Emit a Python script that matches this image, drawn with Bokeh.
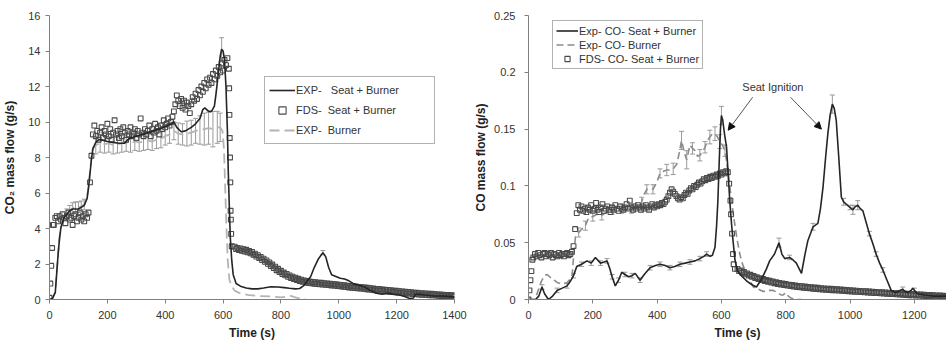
from bokeh.plotting import figure
from bokeh.models import (ColumnDataSource, Whisker, TeeHead, Legend, LegendItem,
                          FixedTicker, Range1d, Arrow, NormalHead, Label)
from bokeh.layouts import row
from bokeh.embed import file_html
from bokeh.resources import INLINE

FONT = "Liberation Sans"

# ---------------- Left panel: CO2 ----------------
exp_sb_t = [0, 10, 20, 25, 30, 35, 40, 50, 60, 70, 80, 90, 100, 110, 120, 130, 135, 140, 145, 150,
            160, 170, 180, 190, 200, 220, 240, 260, 270, 280, 300, 320, 340, 360, 380, 400, 420, 430,
            440, 455, 470, 490, 505, 520, 530, 537, 550, 560, 570, 575, 582, 590, 595, 600, 605, 610,
            615, 618, 622, 625, 630, 635, 645, 660, 680, 700, 720, 740, 766, 790, 811, 830, 850, 865,
            880, 892, 903, 915, 930, 945, 955, 965, 975, 990, 1005, 1020, 1035, 1052, 1070, 1090,
            1110, 1130, 1150, 1170, 1190, 1210, 1230, 1245, 1258, 1265, 1280, 1300, 1330, 1360, 1400]
exp_sb_co2 = [0, 0.05, 0.4, 1.5, 2.6, 3.5, 4.1, 4.6, 4.8, 5.0, 5.1, 5.1, 5.1, 5.2, 5.3, 5.7, 6.3, 7.1, 7.9, 8.5,
              8.85, 9.0, 9.0, 8.95, 8.9, 8.85, 8.8, 8.8, 9.0, 9.1, 9.2, 9.3, 9.4, 9.5, 9.6, 9.75, 9.9, 10.0,
              9.7, 9.45, 9.5, 9.7, 9.9, 10.2, 10.7, 10.8, 10.6, 10.6, 10.9, 11.5, 12.5, 13.7, 14.1, 14.0, 13.5, 12.0,
              9.5, 7.2, 5.0, 3.5, 2.2, 1.4, 0.9, 0.75, 0.65, 0.6, 0.6, 0.65, 0.72, 0.7, 0.67, 0.63, 0.6, 0.62,
              0.8, 1.07, 1.3, 1.8, 2.3, 2.64, 2.4, 1.8, 1.4, 1.3, 1.2, 1.15, 1.05, 0.88, 0.8, 0.7,
              0.5, 0.35, 0.3, 0.35, 0.3, 0.25, 0.15, 0.05, 0.08, 0.3, 0.3, 0.25, 0.2, 0.2, 0.15]
exp_sb_err = [0] * len(exp_sb_t)
exp_sb_err[exp_sb_t.index(595)] = 0.65
exp_sb_err[exp_sb_t.index(945)] = 0.12

exp_b_t = [0, 10, 20, 25, 30, 35, 40, 50, 60, 70, 80, 90, 100, 110, 120, 130, 135, 140, 145, 150,
           160, 175, 190, 205, 220, 235, 250, 265, 280, 295, 310, 325, 340, 355, 370, 385, 400, 415,
           430, 445, 460, 475, 490, 505, 520, 535, 550, 565, 580, 590, 598, 603, 607, 611, 616, 622,
           630, 640, 662, 690, 720, 766, 800, 834, 850, 870, 885]
exp_b_co2 = [0, 0.05, 0.4, 1.5, 2.6, 3.5, 4.0, 4.6, 4.8, 5.0, 5.15, 5.2, 5.2, 5.25, 5.35, 5.8, 6.4, 7.2, 8.0, 8.5,
             8.7, 8.8, 8.75, 8.8, 8.7, 8.75, 8.8, 8.85, 8.8, 8.9, 8.85, 8.9, 8.95, 8.9, 9.0, 9.05, 9.2, 9.3,
             9.5, 9.35, 9.3, 9.35, 9.4, 9.5, 9.55, 9.6, 9.65, 9.6, 9.7, 9.7, 9.5, 8.5, 6.5, 4.4, 2.2, 1.1,
             0.75, 0.5, 0.32, 0.25, 0.2, 0.17, 0.12, 0.2, 0.12, 0.03, 0.0]
exp_b_err = [0, 0, 0, 0, 0, 0, 0, 0, 0.3, 0.3, 0.3, 0.3, 0.3, 0.3, 0.3, 0, 0, 0, 0, 0,
             0.5, 0.5, 0.5, 0.5, 0.5, 0.5, 0.5, 0.5, 0.5, 0.5, 0.5, 0.5, 0.5, 0.5, 0.5, 0.5, 0.5, 0.5,
             0.5, 0.6, 0.6, 0.7, 0.7, 0.7, 0.8, 0.9, 0.9, 1.0, 0.9, 0.8, 0, 0, 0, 0, 0, 0,
             0, 0, 0, 0, 0, 0, 0, 0, 0, 0, 0]

fds_t = [0, 3, 6, 9, 12] + list(range(15, 616, 5)) + [620, 621, 622, 623, 624, 625, 626, 627, 628, 630] \
        + list(range(640, 1401, 5))
fds_co2 = [0.1, 0.9, 1.9, 2.9, 4.2,
           4.2, 4.6, 4.7, 4.4, 4.7, 4.5, 4.8, 4.6, 4.3, 4.7,
           4.9, 4.5, 4.6, 4.2, 4.7, 4.8, 4.4, 4.6, 4.9, 4.5,
           4.7, 4.4, 4.8, 4.6, 4.9, 6.6, 8.1, 9.3, 9.8, 9.2,
           9.5, 9.0, 9.4, 9.7, 9.1, 9.5, 9.3, 9.9, 9.2, 9.6,
           9.0, 9.4, 10.1, 9.3, 9.5, 9.1, 9.6, 9.2, 9.7, 9.4,
           9.0, 9.5, 9.3, 9.7, 9.2, 9.4, 9.6, 9.1, 9.5, 9.3,
           10.2, 9.4, 9.2, 9.6, 9.3, 9.5, 9.8, 9.2, 9.6, 9.4,
           9.9, 9.5, 9.7, 9.3, 9.8, 9.6, 10.1, 9.7, 9.9, 10.2,
           9.8, 10.0, 10.3, 10.6, 11.0, 11.5, 11.2, 10.9, 11.3, 10.8,
           11.2, 10.7, 11.1, 10.9, 10.5, 11.0, 11.4, 11.2, 11.6, 11.3,
           11.8, 11.5, 12.0, 11.7, 12.2, 11.9, 12.4, 12.1, 12.5, 12.2,
           12.7, 12.4, 12.9, 12.6, 13.1, 12.8, 13.3, 12.9, 13.5, 13.2,
           13.6,
           13.0, 11.9, 10.4, 9.1, 8.0, 6.6, 5.0, 4.5, 3.7, 3.0,
           2.98, 2.84, 2.90, 2.78, 2.88, 2.74, 2.84, 2.70, 2.80, 2.66,
           2.74, 2.60, 2.68, 2.52, 2.58, 2.42, 2.50, 2.33, 2.40, 2.22,
           2.30, 2.12, 2.20, 2.01, 2.09, 1.89, 1.97, 1.77, 1.85, 1.65,
           1.73, 1.54, 1.62, 1.44, 1.52, 1.36, 1.44, 1.28, 1.36, 1.21,
           1.29, 1.15, 1.23, 1.09, 1.17, 1.04, 1.12, 1.00, 1.08, 0.96,
           1.04, 0.93, 1.01, 0.91, 0.99, 0.89, 0.97, 0.87, 0.95, 0.85,
           0.94, 0.84, 0.92, 0.83, 0.91, 0.81, 0.89, 0.79, 0.87, 0.78,
           0.86, 0.76, 0.84, 0.74, 0.82, 0.72, 0.80, 0.70, 0.78, 0.68,
           0.76, 0.66, 0.74, 0.65, 0.73, 0.63, 0.71, 0.61, 0.69, 0.60,
           0.68, 0.58, 0.66, 0.56, 0.64, 0.54, 0.62, 0.52, 0.60, 0.51,
           0.59, 0.49, 0.57, 0.47, 0.55, 0.46, 0.54, 0.44, 0.52, 0.42,
           0.50, 0.41, 0.49, 0.39, 0.47, 0.38, 0.46, 0.36, 0.44, 0.34,
           0.42, 0.33, 0.41, 0.31, 0.39, 0.30, 0.38, 0.28, 0.36, 0.27,
           0.35, 0.26, 0.34, 0.25, 0.33, 0.24, 0.32, 0.23, 0.31, 0.22,
           0.29, 0.21, 0.28, 0.20, 0.27, 0.19, 0.26, 0.18, 0.25, 0.18,
           0.24, 0.17, 0.23]

# ---------------- Right panel: CO ----------------
co_sb_t = [0, 22, 32, 42, 50, 62, 75, 89, 105, 120, 130, 140, 150, 165, 182, 195, 208, 224, 235, 244,
           252, 260, 270, 280, 290, 300, 311, 322, 332, 347, 360, 378, 395, 409, 425, 440, 455, 471,
           487, 502, 518, 533, 545, 554, 565, 572, 580, 585, 589, 593, 597, 600, 604, 610, 616, 621,
           626, 631, 636, 642, 650, 665, 680, 695, 709, 725, 740, 750, 765, 779, 788, 797, 812, 822,
           833, 849, 860, 869, 885, 900, 908, 916, 924, 931, 938, 945, 951, 957, 965, 973, 980, 988,
           1000, 1009, 1017, 1024, 1032, 1040, 1050, 1060, 1070, 1081, 1092, 1102, 1115, 1128, 1143,
           1155, 1164, 1172, 1180, 1190, 1195, 1200, 1210, 1230, 1260, 1300]
co_sb = [0, 0, 0.003, 0.011, 0.005, 0.0, 0.003, 0.008, 0.010, 0.012, 0.016, 0.021, 0.029, 0.031, 0.034, 0.032,
         0.037, 0.032, 0.033, 0.034, 0.028, 0.020, 0.012, 0.017, 0.024, 0.022, 0.020, 0.021, 0.023, 0.017,
         0.022, 0.028, 0.030, 0.031, 0.030, 0.028, 0.029, 0.031, 0.032, 0.033, 0.034, 0.036, 0.038, 0.040,
         0.038, 0.039, 0.046, 0.065, 0.087, 0.120, 0.150, 0.162, 0.158, 0.145, 0.134, 0.110, 0.087, 0.068,
         0.052, 0.035, 0.025, 0.020, 0.016, 0.013, 0.011, 0.018, 0.027, 0.034, 0.040, 0.050, 0.040, 0.036,
         0.037, 0.035, 0.032, 0.023, 0.040, 0.052, 0.064, 0.067, 0.080, 0.099, 0.125, 0.146, 0.162, 0.172,
         0.168, 0.158, 0.125, 0.090, 0.086, 0.084, 0.081, 0.079, 0.082, 0.083, 0.080, 0.078, 0.068, 0.058,
         0.050, 0.040, 0.032, 0.026, 0.017, 0.008, 0.006, 0.008, 0.009, 0.007, 0.006, 0.008, 0.010, 0.008,
         0.005, 0.004, 0.003, 0.003]
co_sb_err = [0, 0, 0, 0.002, 0, 0, 0, 0.002, 0, 0.002, 0, 0.002, 0, 0.002, 0, 0.002, 0, 0.002, 0, 0.002,
             0, 0.002, 0, 0.002, 0, 0.002, 0, 0.002, 0, 0.002, 0, 0.002, 0, 0.002, 0, 0.002, 0, 0.002,
             0, 0.002, 0, 0.002, 0, 0.002, 0, 0, 0, 0, 0, 0, 0, 0.008, 0, 0, 0, 0,
             0, 0, 0, 0, 0, 0, 0, 0, 0, 0, 0, 0, 0, 0.004, 0, 0, 0.002, 0,
             0, 0, 0, 0, 0.003, 0, 0, 0, 0, 0, 0, 0.008, 0, 0, 0, 0, 0.003, 0,
             0.002, 0.004, 0, 0.004, 0, 0, 0, 0.002, 0, 0.002, 0, 0.002, 0, 0, 0,
             0, 0.002, 0, 0, 0, 0, 0.002, 0, 0, 0, 0]

co_b_t = [0, 20, 30, 40, 50, 58, 70, 80, 89, 100, 110, 120, 130, 136, 140, 146, 156, 166, 177, 187, 200,
          213, 228, 244, 260, 275, 290, 305, 320, 335, 345, 352, 360, 368, 378, 387, 399, 409, 420, 430,
          440, 450, 461, 468, 476, 484, 492, 502, 510, 518, 526, 533, 541, 549, 557, 564, 572, 580, 588,
          595, 603, 611, 616, 621, 629, 637, 647, 657, 667, 678, 690, 699, 715, 730, 745, 761, 775, 785,
          792, 800, 808, 818, 835, 850]
co_b = [0, 0, 0.008, 0.016, 0.021, 0.022, 0.019, 0.017, 0.015, 0.014, 0.014, 0.015, 0.018, 0.022, 0.037,
        0.055, 0.059, 0.062, 0.065, 0.072, 0.073, 0.075, 0.074, 0.077, 0.079, 0.082, 0.080, 0.079, 0.080,
        0.081, 0.081, 0.086, 0.093, 0.097, 0.097, 0.097, 0.103, 0.111, 0.113, 0.114, 0.114, 0.115, 0.119,
        0.128, 0.140, 0.130, 0.123, 0.136, 0.133, 0.131, 0.126, 0.127, 0.130, 0.134, 0.140, 0.143, 0.146,
        0.146, 0.143, 0.139, 0.136, 0.131, 0.122, 0.111, 0.093, 0.075, 0.056, 0.040, 0.030, 0.023, 0.016,
        0.011, 0.009, 0.007, 0.008, 0.008, 0.006, 0.004, 0.004, 0.006, 0.003, 0.001, 0.0, 0.0]
co_b_err = [0, 0, 0, 0, 0, 0, 0, 0, 0, 0, 0, 0, 0, 0, 0, 0, 0.004, 0, 0.004, 0, 0.004,
            0, 0.004, 0, 0.004, 0, 0.004, 0, 0.004, 0, 0, 0.004, 0, 0.004, 0, 0.004, 0, 0.004, 0, 0.005,
            0, 0.005, 0, 0, 0.008, 0, 0.008, 0, 0.005, 0, 0, 0.005, 0, 0.005, 0, 0.006, 0, 0.006, 0,
            0.006, 0, 0.005, 0, 0, 0, 0, 0, 0, 0, 0, 0, 0, 0, 0, 0, 0, 0, 0,
            0, 0, 0, 0, 0, 0]

fds_co_t = [0, 3, 6, 9, 12] + list(range(15, 616, 5)) + [620, 624, 628, 630, 633, 636, 638, 642] \
           + list(range(650, 1301, 5))
fds_co = [0.0, 0.008, 0.017, 0.025, 0.035,
          0.037, 0.040, 0.038, 0.041, 0.039, 0.037, 0.040, 0.041, 0.038, 0.040,
          0.039, 0.041, 0.037, 0.040, 0.039, 0.038, 0.041, 0.039, 0.040, 0.038,
          0.040, 0.041, 0.039, 0.040, 0.042, 0.047, 0.062, 0.076, 0.083, 0.079,
          0.082, 0.078, 0.080, 0.077, 0.081, 0.079, 0.083, 0.078, 0.080, 0.085,
          0.079, 0.077, 0.081, 0.084, 0.078, 0.080, 0.082, 0.079, 0.077, 0.081,
          0.079, 0.083, 0.080, 0.078, 0.082, 0.080, 0.079, 0.081, 0.084, 0.080,
          0.087, 0.081, 0.079, 0.082, 0.080, 0.083, 0.081, 0.079, 0.082, 0.080,
          0.083, 0.081, 0.079, 0.082, 0.084, 0.081, 0.083, 0.082, 0.084, 0.083,
          0.085, 0.084, 0.086, 0.088, 0.091, 0.094, 0.097, 0.095, 0.093, 0.091,
          0.089, 0.088, 0.090, 0.089, 0.092, 0.094, 0.093, 0.096, 0.098, 0.097,
          0.100, 0.099, 0.101, 0.103, 0.102, 0.104, 0.106, 0.105, 0.107, 0.106,
          0.108, 0.107, 0.109, 0.108, 0.110, 0.109, 0.111, 0.110, 0.112, 0.111,
          0.113,
          0.112, 0.102, 0.087, 0.075, 0.058, 0.040, 0.031, 0.027,
          0.0270, 0.0250, 0.0255, 0.0235, 0.0242, 0.0222, 0.0230, 0.0210, 0.0218, 0.0199,
          0.0207, 0.0189, 0.0197, 0.0180, 0.0188, 0.0171, 0.0180, 0.0163, 0.0172, 0.0156,
          0.0165, 0.0149, 0.0158, 0.0143, 0.0152, 0.0137, 0.0146, 0.0132, 0.0141, 0.0127,
          0.0136, 0.0122, 0.0131, 0.0118, 0.0127, 0.0114, 0.0123, 0.0110, 0.0120, 0.0107,
          0.0117, 0.0104, 0.0114, 0.0101, 0.0111, 0.0098, 0.0108, 0.0095, 0.0105, 0.0093,
          0.0103, 0.0090, 0.0100, 0.0088, 0.0098, 0.0086, 0.0096, 0.0084, 0.0094, 0.0082,
          0.0092, 0.0080, 0.0090, 0.0078, 0.0088, 0.0076, 0.0086, 0.0074, 0.0084, 0.0072,
          0.0082, 0.0070, 0.0080, 0.0068, 0.0078, 0.0067, 0.0076, 0.0065, 0.0074, 0.0063,
          0.0073, 0.0061, 0.0071, 0.0059, 0.0069, 0.0057, 0.0067, 0.0056, 0.0065, 0.0054,
          0.0064, 0.0052, 0.0062, 0.0050, 0.0060, 0.0048, 0.0058, 0.0047, 0.0056, 0.0045,
          0.0055, 0.0043, 0.0053, 0.0042, 0.0051, 0.0040, 0.0050, 0.0038, 0.0048, 0.0037,
          0.0047, 0.0035, 0.0045, 0.0034, 0.0044, 0.0032, 0.0042, 0.0031, 0.0040, 0.0029,
          0.0039, 0.0028, 0.0038, 0.0026, 0.0036, 0.0025, 0.0035, 0.0024, 0.0033, 0.0022,
          0.0032]

left_xticks = [0, 200, 400, 600, 800, 1000, 1200, 1400]
left_yticks = [0, 2, 4, 6, 8, 10, 12, 14, 16]
right_xticks = [0, 200, 400, 600, 800, 1000, 1200]
right_yticks = [0, 0.05, 0.1, 0.15, 0.2, 0.25]
right_ylabels = ["0", "0.05", "0.1", "0.15", "0.2", "0.25"]

assert len(fds_t) == len(fds_co2), (len(fds_t), len(fds_co2))
assert len(fds_co_t) == len(fds_co), (len(fds_co_t), len(fds_co))
assert len(co_sb_t) == len(co_sb) == len(co_sb_err)
assert len(co_b_t) == len(co_b) == len(co_b_err)
assert len(exp_b_t) == len(exp_b_co2) == len(exp_b_err)
assert len(exp_sb_t) == len(exp_sb_co2)

BLACK = "#252525"
ERR = "#9a9a9a"
SQ = "#4a4a4a"


def err_source(t, y, e):
    b, u, l = [], [], []
    for ti, yi, ei in zip(t, y, e):
        if ei > 0:
            b.append(ti)
            u.append(yi + ei)
            l.append(yi - ei)
    return ColumnDataSource(dict(base=b, upper=u, lower=l))


def add_err(p, t, y, e):
    src = err_source(t, y, e)
    w = Whisker(base="base", upper="upper", lower="lower", source=src, dimension="height",
                line_color=ERR, line_width=1,
                upper_head=TeeHead(size=5, line_color=ERR, line_width=1),
                lower_head=TeeHead(size=5, line_color=ERR, line_width=1))
    p.add_layout(w)


def style(p, ylab_standoff, ylabel_standoff):
    p.grid.visible = False
    p.outline_line_color = None
    p.background_fill_color = "white"
    p.border_fill_color = "white"
    for ax in (p.xaxis[0], p.yaxis[0]):
        ax.axis_line_color = "#808080"
        ax.major_tick_line_color = "#808080"
        ax.minor_tick_line_color = None
        ax.major_tick_in = 0
        ax.major_tick_out = 4
        ax.major_label_text_font = FONT
        ax.major_label_text_font_size = "11px"
        ax.major_label_text_color = "#333333"
        ax.axis_label_text_font = FONT
        ax.axis_label_text_font_size = "12px"
        ax.axis_label_text_font_style = "bold"
        ax.axis_label_text_color = "#222222"
    p.xaxis[0].major_label_standoff = 7
    p.xaxis[0].axis_label_standoff = 4
    p.yaxis[0].major_label_standoff = ylab_standoff
    p.yaxis[0].axis_label_standoff = ylabel_standoff


# ---- left figure ----
p1 = figure(width=470, height=347, output_backend="svg", toolbar_location=None,
            x_range=Range1d(0, 1400), y_range=Range1d(0, 16),
            min_border_left=48, min_border_right=16, min_border_top=14, min_border_bottom=48,
            x_axis_label="Time (s)", y_axis_label="CO\u2082 mass flow (g/s)")
style(p1, 5, 8)
p1.xaxis[0].ticker = FixedTicker(ticks=left_xticks)
p1.yaxis[0].ticker = FixedTicker(ticks=left_yticks)

add_err(p1, exp_b_t, exp_b_co2, exp_b_err)
r_b = p1.line(exp_b_t, exp_b_co2, line_color="#b4b4b4", line_width=1.8, line_dash="10 5")
add_err(p1, exp_sb_t, exp_sb_co2, exp_sb_err)
r_fds = p1.scatter(fds_t, fds_co2, marker="square", size=4.8, fill_alpha=0,
                   line_color=SQ, line_width=1.1)
r_sb = p1.line(exp_sb_t, exp_sb_co2, line_color=BLACK, line_width=1.6)

leg1 = Legend(items=[
    LegendItem(label="EXP-\u00a0\u00a0 Seat + Burner\u00a0\u00a0\u00a0\u00a0\u00a0\u00a0\u00a0\u00a0\u00a0\u00a0", renderers=[r_sb]),
    LegendItem(label="FDS-\u00a0 Seat + Burner", renderers=[r_fds]),
    LegendItem(label="EXP-\u00a0 Burner", renderers=[r_b]),
], location=(215, 155), orientation="vertical",
    label_text_font=FONT, label_text_font_size="11px", label_text_color="#333333",
    glyph_width=26, glyph_height=18, label_height=18, label_standoff=1, spacing=2, padding=4,
    border_line_color="#666666", border_line_width=1, background_fill_color="white",
    background_fill_alpha=1, margin=0)
p1.add_layout(leg1)

# ---- right figure ----
p2 = figure(width=476, height=347, output_backend="svg", toolbar_location=None,
            x_range=Range1d(0, 1300), y_range=Range1d(0, 0.25),
            min_border_left=58, min_border_right=0, min_border_top=15, min_border_bottom=48,
            x_axis_label="Time (s)", y_axis_label="CO mass flow (g/s)")
style(p2, 9, 3)
p2.xaxis[0].ticker = FixedTicker(ticks=right_xticks)
p2.yaxis[0].ticker = FixedTicker(ticks=right_yticks)
p2.yaxis[0].major_label_overrides = {t: s for t, s in zip(right_yticks, right_ylabels)}

add_err(p2, co_b_t, co_b, co_b_err)
r2_b = p2.line(co_b_t, co_b, line_color="#8c8c8c", line_width=1.6, line_dash="7 4")
r2_fds = p2.scatter(fds_co_t, fds_co, marker="square", size=4.8, fill_alpha=0,
                    line_color=SQ, line_width=1.1)
add_err(p2, co_sb_t, co_sb, co_sb_err)
r2_sb = p2.line(co_sb_t, co_sb, line_color=BLACK, line_width=1.6)

leg2 = Legend(items=[
    LegendItem(label="Exp- CO- Seat + Burner", renderers=[r2_sb]),
    LegendItem(label="Exp- CO- Burner", renderers=[r2_b]),
    LegendItem(label="FDS- CO- Seat + Burner", renderers=[r2_fds]),
], location=(24, 230), orientation="vertical",
    label_text_font=FONT, label_text_font_size="11px", label_text_color="#333333",
    glyph_width=22, glyph_height=13, label_height=13, label_standoff=1, spacing=1, padding=3,
    border_line_color="#666666", border_line_width=1, background_fill_color="white",
    background_fill_alpha=1, margin=0)
p2.add_layout(leg2)

# annotation: Seat Ignition
ann_text = "Seat Ignition"
ann_x, ann_y = 760, 0.1875
arrows = [(697, 0.178, 621, 0.149), (815, 0.178, 911, 0.150)]
p2.add_layout(Label(x=ann_x, y=ann_y, text=ann_text, text_align="center", text_baseline="middle",
                    text_font=FONT, text_font_size="11px", text_color="#333333"))
for xs, ys, xe, ye in arrows:
    p2.add_layout(Arrow(x_start=xs, y_start=ys, x_end=xe, y_end=ye, line_color="#555555", line_width=1,
                        end=NormalHead(size=7, fill_color="#111111", line_color="#111111")))

layout = row(p1, p2, spacing=0)
open("out.html", "w").write(file_html(layout, INLINE))
